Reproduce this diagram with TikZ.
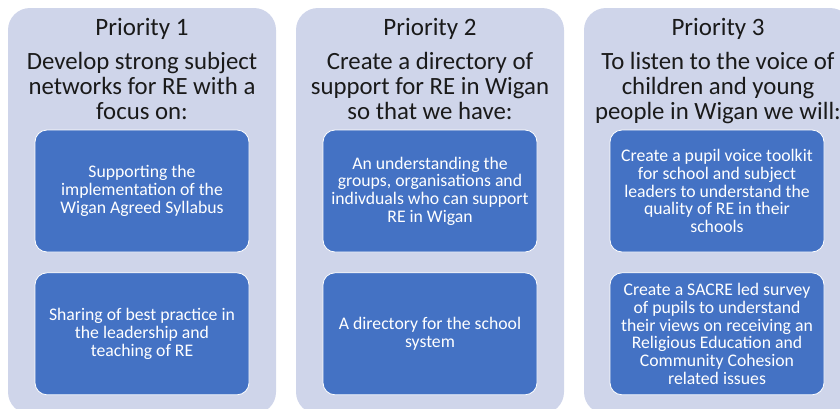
\documentclass[tikz,border=0pt]{standalone}
\usepackage{fontspec}
\setmainfont{Carlito}
\usetikzlibrary{positioning}

\definecolor{panelbg}{HTML}{CFD5EA}
\definecolor{taskblue}{HTML}{4472C4}
\definecolor{inktext}{HTML}{1A1A1A}

\begin{document}
\begin{tikzpicture}[x=1pt, y=-1pt,
    panel/.style={fill=panelbg, rounded corners=22pt, draw=none},
    prio/.style={anchor=base, text=inktext, inner sep=0pt, font=\fontsize{25}{25}\selectfont},
    aim/.style={anchor=north, align=center, inner sep=0pt, text=inktext, font=\fontsize{24.8}{25}\selectfont},
    task/.style={rectangle, rounded corners=12pt, fill=taskblue, draw=white, line width=0.8pt,
                 minimum width=214pt, minimum height=122pt, align=center, text=white,
                 font=\fontsize{17.7}{17.7}\selectfont}]
    \useasboundingbox (0,0) rectangle (840,408);
    \clip (0,0) rectangle (840,408);

    %%one
    \path[panel] (8,8) rectangle (276,414);
    \node[prio] (prio1) at (142,35) {Priority 1};
    \node[aim] (aim1) at (142,52) {Develop strong subject\\networks for RE with a\\focus on:};
    \node[task] (task11) at (142,191) {Supporting the\\implementation of the\\Wigan Agreed Syllabus};
    \node[task, below=20pt of task11] (task12) {Sharing of best practice in\\the leadership and\\teaching of RE};

    %%two
    \path[panel] (296,8) rectangle (564,414);
    \node[prio] (prio2) at (430,35) {Priority 2};
    \node[aim] (aim2) at (430,52) {Create a directory of\\support for RE in Wigan\\so that we have:};
    \node[task] (task21) at (430,191) {An understanding the\\groups, organisations and\\indivduals who can support\\RE in Wigan};
    \node[task, below=20pt of task21] (task22) {A directory for the school\\system};

    %%three
    \path[panel] (584,8) rectangle (852,414);
    \node[prio] (prio3) at (718,35) {Priority 3};
    \node[aim] (aim3) at (718,52) {To listen to the voice of\\children and young\\people in Wigan we will:};
    \node[task] (task31) at (717,191) {Create a pupil voice toolkit\\for school and subject\\leaders to understand the\\quality of RE in their\\schools};
    \node[task, below=20pt of task31] (task32) {Create a SACRE led survey\\of pupils to understand\\their views on receiving an\\Religious Education and\\Community Cohesion\\related issues};
\end{tikzpicture}
\end{document}
